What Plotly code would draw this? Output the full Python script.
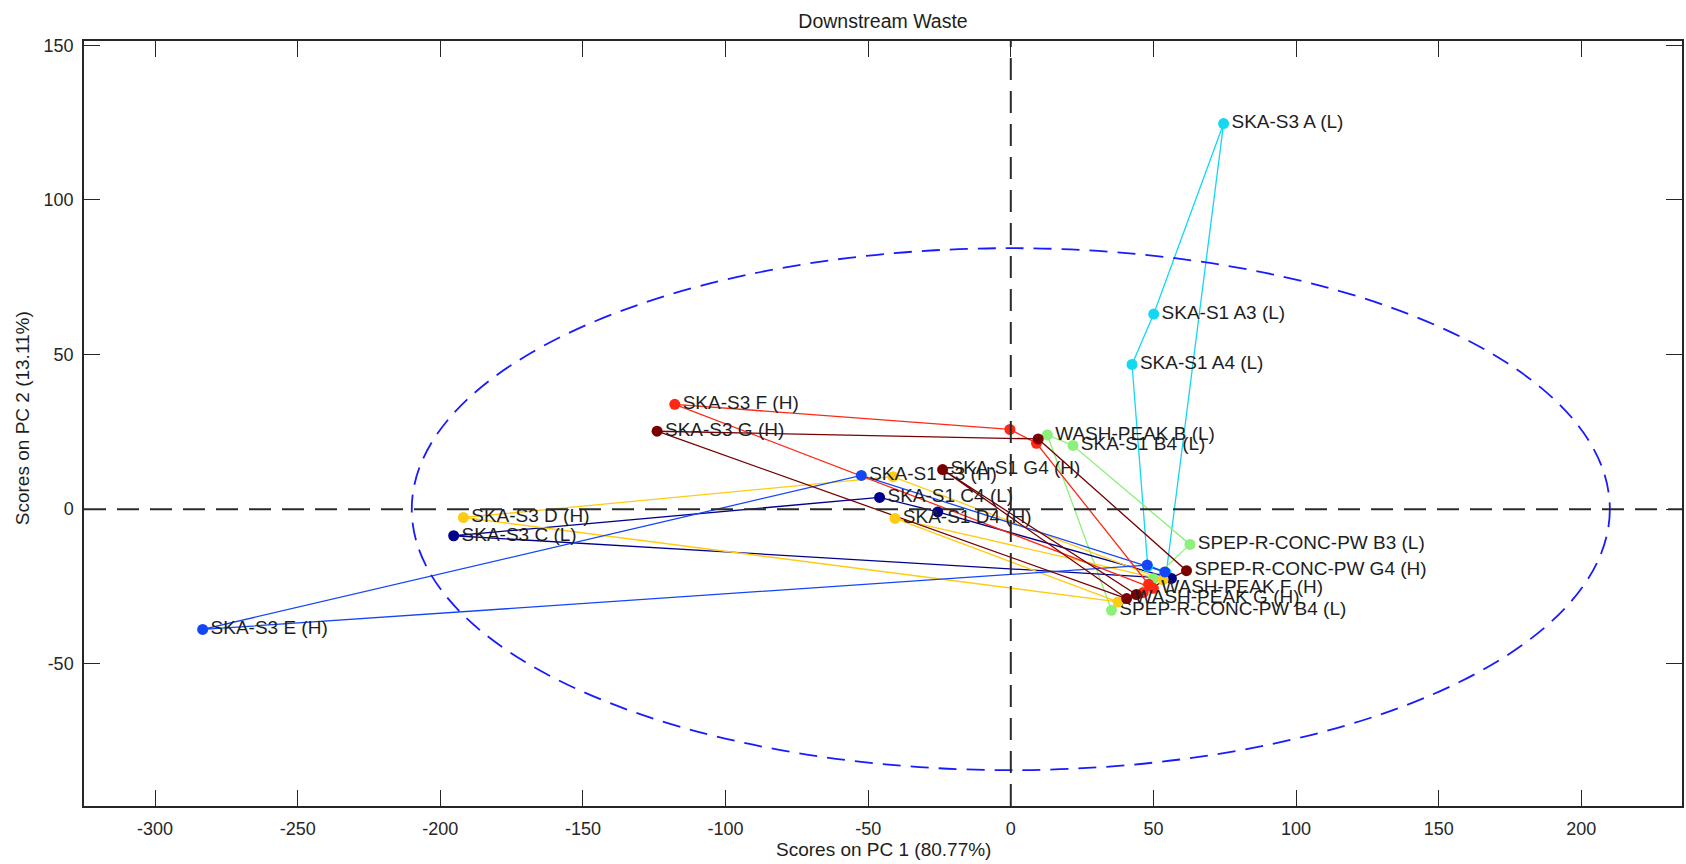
import plotly.graph_objects as go

# ---------------- data (PC1, PC2 scores) ----------------
A_x = [74.6, 50.1, 42.5, 48.0, 54.5]
A_y = [124.7, 63.1, 46.8, -18.5, -20.6]
A_lab = ["SKA-S3 A (L)", "SKA-S1 A3 (L)", "SKA-S1 A4 (L)", "", ""]

B_x = [12.8, 35.3, 50.0, 62.8, 21.8]
B_y = [24.0, -32.7, -22.5, -11.4, 20.6]
B_lab = ["WASH-PEAK B (L)", "SPEP-R-CONC-PW B4 (L)", "", "SPEP-R-CONC-PW B3 (L)", "SKA-S1 B4 (L)"]

C_x = [-195.3, -46.0, -25.6, 56.3]
C_y = [-8.6, 3.8, -0.9, -22.4]
C_lab = ["SKA-S3 C (L)", "SKA-S1 C4 (L)", "", ""]

D_x = [-191.9, -41.3, 53.4, -40.6, 37.6]
D_y = [-2.7, 10.5, -22.8, -3.0, -30.0]
D_lab = ["SKA-S3 D (H)", "", "", "SKA-S1 D4 (H)", ""]

E_x = [-283.3, -52.4, 54.0, 47.8]
E_y = [-38.9, 10.9, -20.3, -18.1]
E_lab = ["SKA-S3 E (H)", "SKA-S1 E3 (H)", "", ""]

F_x = [-117.8, -0.3, 9.0, 48.3, 46.4, 50.0]
F_y = [33.9, 25.8, 21.3, -24.3, -27.0, -25.6]
F_lab = ["SKA-S3 F (H)", "", "", "", "", "WASH-PEAK F (H)"]

G_x = [-124.0, 9.6, 61.6, 44.0, -23.9, 40.6]
G_y = [25.2, 22.7, -19.9, -27.6, 12.8, -28.9]
G_lab = ["SKA-S3 G (H)", "", "SPEP-R-CONC-PW G4 (H)", "", "SKA-S1 G4 (H)", "WASH-PEAK G (H)"]

x_ticks = [-300, -250, -200, -150, -100, -50, 0, 50, 100, 150, 200]
x_ticktext = ["-300", "-250", "-200", "-150", "-100", "-50", "0", "50", "100", "150", "200"]
y_ticks = [-50, 0, 50, 100, 150]
y_ticktext = ["-50", "0", "50", "100", "150"]

ellipse_ax = [210.0, 84.4]   # confidence ellipse semi-axes (PC1, PC2)

groups = [
    (A_x, A_y, A_lab, "#12D8F2"),
    (B_x, B_y, B_lab, "#8CF07A"),
    (C_x, C_y, C_lab, "#00008C"),
    (D_x, D_y, D_lab, "#FFCC14"),
    (E_x, E_y, E_lab, "#1446F5"),
    (F_x, F_y, F_lab, "#FF2814"),
    (G_x, G_y, G_lab, "#780000"),
]

FONT = "Liberation Sans, Arial, sans-serif"
TXT = "#1e1e1e"

fig = go.Figure()
for xs, ys, labs, col in groups:
    fig.add_trace(go.Scatter(
        x=xs + [xs[0]], y=ys + [ys[0]], mode="lines",
        line=dict(color=col, width=1.3), hoverinfo="skip", showlegend=False))
for xs, ys, labs, col in groups:
    fig.add_trace(go.Scatter(
        x=xs, y=ys, mode="markers+text", text=labs,
        textposition="middle right",
        textfont=dict(family=FONT, size=19, color=TXT),
        marker=dict(color=col, size=11, line=dict(width=0)),
        showlegend=False))

shapes = [
    dict(type="circle", xref="x", yref="y",
         x0=-ellipse_ax[0], x1=ellipse_ax[0], y0=-ellipse_ax[1], y1=ellipse_ax[1],
         line=dict(color="#1a1aff", width=1.8, dash="18px,10px"), layer="above"),
    dict(type="line", xref="paper", yref="y", x0=0, x1=1, y0=0, y1=0,
         line=dict(color="#2a2a2a", width=2, dash="22px,11px"), layer="above"),
    dict(type="line", xref="x", yref="paper", x0=0, x1=0, y0=0, y1=1,
         line=dict(color="#2a2a2a", width=2, dash="22px,11px"), layer="above"),
]

axis_common = dict(
    showgrid=False, zeroline=False, showline=True, linecolor="#262626", linewidth=1.5,
    mirror="ticks", ticks="inside", ticklen=16, tickwidth=1.3, tickcolor="#262626",
    tickfont=dict(family=FONT, size=18, color="#262626"), automargin=False,
)

fig.update_layout(
    width=1686, height=864,
    margin=dict(l=84, r=4, t=41, b=58),
    paper_bgcolor="white", plot_bgcolor="white",
    shapes=shapes,
    title=dict(text="Downstream Waste", x=0.5, xref="paper", y=1 - 20.7 / 864,
               yref="container", yanchor="middle", xanchor="center",
               font=dict(family=FONT, size=19.5, color=TXT)),
    xaxis=dict(range=[-324.9, 235.3], tickvals=x_ticks, ticktext=x_ticktext,
               ticklabelstandoff=6, **axis_common),
    yaxis=dict(range=[-96.0, 151.4], tickvals=y_ticks, ticktext=y_ticktext,
               ticklabelstandoff=5, **axis_common),
    annotations=[
        dict(text="Scores on PC 1 (80.77%)", xref="paper", yref="paper", x=0.5, y=0,
             xanchor="center", yanchor="middle", yshift=-43.3, showarrow=False,
             font=dict(family=FONT, size=19, color=TXT)),
        dict(text="Scores on PC 2 (13.11%)", xref="paper", yref="paper", x=0, y=0.5,
             xanchor="center", yanchor="middle", xshift=-61.3, yshift=5, textangle=-90,
             showarrow=False, font=dict(family=FONT, size=19, color=TXT)),
    ],
)

fig.write_html("out.html")
